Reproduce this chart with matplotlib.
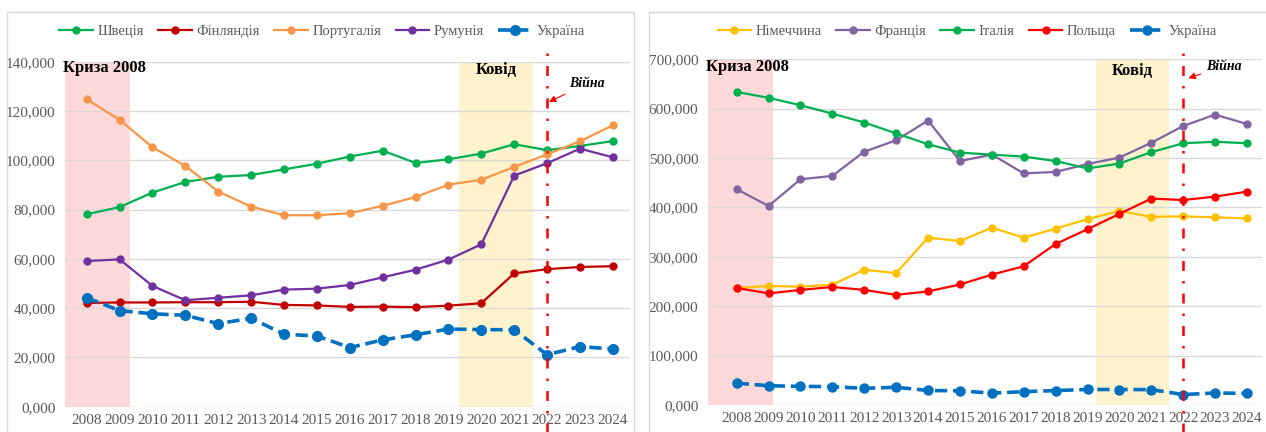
import matplotlib.pyplot as plt
from matplotlib.patches import Rectangle
from matplotlib.ticker import FuncFormatter
import numpy as np

years = [str(y) for y in range(2008, 2025)]

# left panel (thousands)
sweden = [78.1, 81.0, 86.9, 91.2, 93.3, 94.0, 96.3, 98.6, 101.5, 103.9, 98.9, 100.4, 102.7, 106.5, 104.1, 105.8, 107.8]
finland = [42.1, 42.3, 42.3, 42.4, 42.4, 42.6, 41.3, 41.1, 40.5, 40.6, 40.4, 41.0, 42.0, 54.1, 55.8, 56.7, 57.0]
portugal = [124.8, 116.4, 105.3, 97.7, 87.3, 81.2, 77.7, 77.7, 78.5, 81.5, 85.1, 90.1, 92.1, 97.3, 102.4, 107.7, 114.2]
romania = [59.1, 59.8, 49.0, 43.2, 44.2, 45.2, 47.5, 47.9, 49.4, 52.5, 55.6, 59.7, 65.9, 93.8, 98.8, 104.7, 101.2]
ukraine = [44.2, 39.0, 37.7, 37.1, 33.7, 35.9, 29.4, 28.7, 24.0, 27.1, 29.2, 31.5, 31.3, 31.2, 21.1, 24.4, 23.4]

# right panel (thousands)
germany = [237, 241, 239.6, 243.5, 274, 267, 339, 332, 359, 339, 357, 376.5, 393, 381, 382, 380, 378]
france = [437, 403, 457, 464, 513, 536, 576, 494, 507, 469, 472, 488, 501, 531, 565, 588, 569]
italy = [634, 622, 607, 590, 572, 550, 528, 511, 507, 503, 494, 479, 489, 512, 530, 533, 530]
poland = [237, 226, 233, 239, 233, 223, 230, 244, 264, 281, 326, 356, 387, 418, 415, 422, 432]

left_series = [("Швеція", sweden, "#00b050"), ("Фінляндія", finland, "#c00000"),
               ("Португалія", portugal, "#f79646"), ("Румунія", romania, "#7030a0")]
right_series = [("Німеччина", germany, "#ffc000"), ("Франція", france, "#8064a2"),
                ("Італія", italy, "#00b050"), ("Польща", poland, "#ff0000")]

plt.rcParams['font.family'] = ['Liberation Serif', 'DejaVu Serif']
gray = "#595959"

fig = plt.figure(figsize=(12.66, 4.32), dpi=100)
axL = fig.add_axes([65/1266, 1-406.7/432, 565/1266, 345/432])
axR = fig.add_axes([708/1266, 1-405/432, 554/1266, 345.7/432])

for (x0, x1, y0) in [(7, 634, 12), (649, 1272, 12)]:
    fig.add_artist(Rectangle((x0/1266, -0.05), (x1-x0)/1266, 1-y0/432+0.05,
                             transform=fig.transFigure, fill=False, ec="#d9d9d9", lw=1))


def setup(ax, series, ymax, xlim, pink_end, covid, krisa_y, kovid_y, war_txt, war_tip, ua_ms):
    x = np.arange(len(years))
    ax.set_xlim(*xlim)
    ax.set_ylim(0, ymax)
    ax.axvspan(xlim[0], pink_end, color="#ffd9d9", zorder=0, lw=0)
    ax.axvspan(covid[0], covid[1], color="#fff2cc", zorder=0, lw=0)
    for name, vals, c in series:
        ax.plot(x, np.array(vals) * 1000, color=c, lw=1.6, marker="o", ms=5, label=name, zorder=3)
    ax.plot(x, np.array(ukraine) * 1000, color="#0070c0", lw=2.6, ls=(0, (3.4, 1.6)),
            marker="o", ms=ua_ms, label="Україна", zorder=4)
    ax.axvline(14, ymin=-0.08, ymax=1.03, color="red", lw=1.8, ls=(0, (4, 4, 1, 4)),
               clip_on=False, zorder=5)
    ax.set_xticks(x)
    ax.set_xticklabels(years)
    ax.yaxis.set_major_formatter(FuncFormatter(lambda v, p: f"{int(round(v/1000))},000"))
    ax.tick_params(length=0, labelsize=11, labelcolor=gray)
    ax.tick_params(axis="x", pad=5)
    ax.tick_params(axis="y", pad=7)
    for s in ax.spines.values():
        s.set_visible(False)
    ax.grid(axis="y", color="#d9d9d9", lw=1)
    ax.set_axisbelow(True)
    ax.text(xlim[0] - 0.05, krisa_y, "Криза 2008", fontsize=12, fontweight="bold",
            ha="left", va="center", clip_on=False)
    ax.text((covid[0] + covid[1]) / 2, kovid_y, "Ковід", fontsize=12, fontweight="bold",
            ha="center", va="center")
    ax.annotate("Війна", xy=war_tip, xytext=war_txt, fontsize=10, fontweight="bold",
                fontstyle="italic", ha="left", va="center", annotation_clip=False,
                arrowprops=dict(arrowstyle="-|>", color="red", lw=0.8, mutation_scale=10))
    return ax


setup(axL, left_series, 140000, (-0.66, 16.52), 1.32, (11.33, 13.57),
      137500, 136600, (14.66, 131000), (13.98, 123200), 7)
setup(axR, right_series, 700000, (-0.9, 16.47), 1.15, (11.26, 13.56),
      684000, 677000, (14.72, 686000), (14.08, 660000), 6.5)

for ax, cx in [(axL, 322), (axR, 967)]:
    h, l = ax.get_legend_handles_labels()
    fig.legend(h, l, loc="center", bbox_to_anchor=(cx/1266, 1-31/432), ncol=5, frameon=False,
               fontsize=10.5, labelcolor=gray, handlelength=2.3, columnspacing=1.0,
               handletextpad=0.3)

fig.savefig("out.png", dpi=100)
